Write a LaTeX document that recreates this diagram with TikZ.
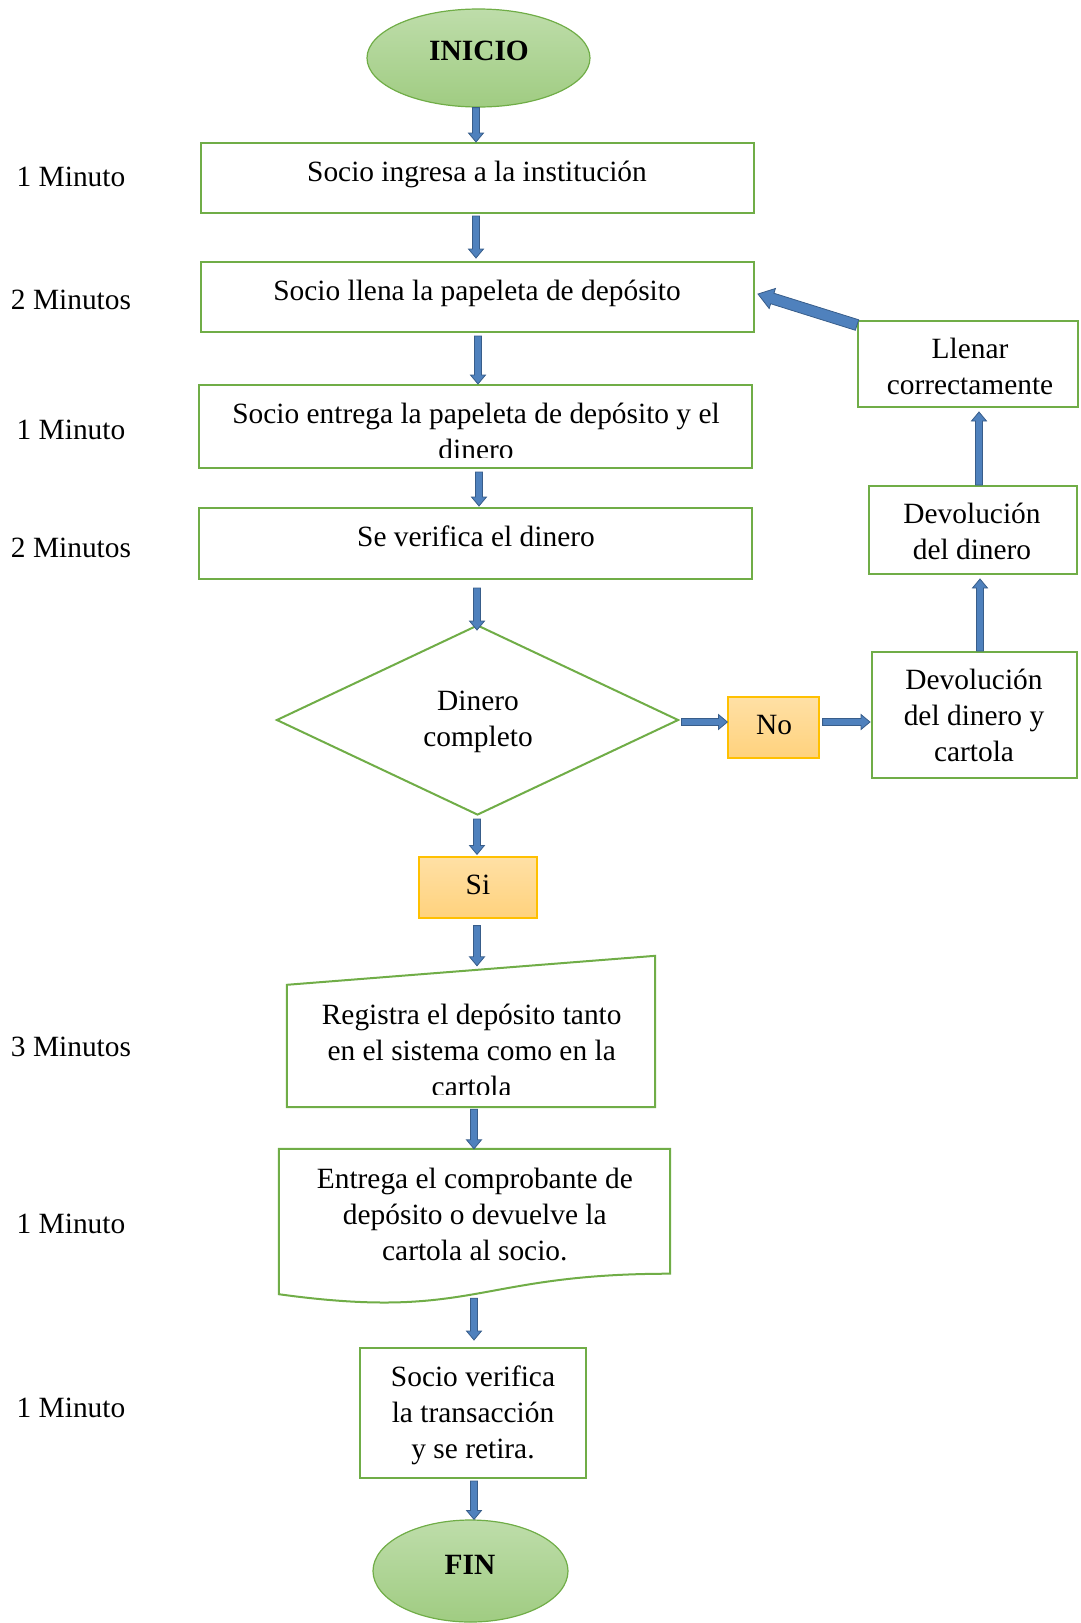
\documentclass[tikz,border=0pt]{standalone}
\usepackage{fontspec}
\setmainfont{Liberation Serif}
\usetikzlibrary{shapes.geometric,calc}

\definecolor{boxgreen}{RGB}{112,173,71}
\definecolor{ovaltop}{RGB}{190,221,170}
\definecolor{ovalbot}{RGB}{160,204,130}
\definecolor{tagtop}{RGB}{255,224,165}
\definecolor{tagbot}{RGB}{255,210,125}
\definecolor{tagedge}{RGB}{255,192,0}
\definecolor{arrowfill}{RGB}{79,129,189}
\definecolor{arrowedge}{RGB}{56,93,138}

% block arrow: from, to, half shaft width, half head width, head length
\newcommand\flowarrow[5]{%
  \coordinate (fa-s) at (#1);
  \coordinate (fa-e) at (#2);
  \coordinate (fa-h) at ($(fa-e)!#5!(fa-s)$);
  \filldraw[fill=arrowfill, draw=arrowedge, line width=0.8pt, line join=miter]
    ($(fa-s)!#3!90:(fa-e)$) -- ($(fa-h)!#3!90:(fa-e)$) -- ($(fa-h)!#4!90:(fa-e)$)
    -- (fa-e) -- ($(fa-h)!#4!-90:(fa-e)$) -- ($(fa-h)!#3!-90:(fa-e)$)
    -- ($(fa-s)!#3!-90:(fa-e)$) -- cycle;
}
\newcommand\flowstd[2]{\flowarrow{#1}{#2}{3.5pt}{7.5pt}{9pt}}

\tikzset{
  procbox/.style={rectangle, draw=boxgreen, line width=2pt, fill=white, inner sep=0pt},
  oval/.style={ellipse, draw=boxgreen, line width=1.2pt, top color=ovaltop, bottom color=ovalbot, inner sep=0pt},
  tagbox/.style={rectangle, draw=tagedge, line width=1.2pt, top color=tagtop, bottom color=tagbot, inner sep=0pt},
  txt/.style={font=\fontsize{29.4}{36}\selectfont, align=center, inner sep=0pt},
  boldtxt/.style={txt, font=\fontsize{29.4}{36}\selectfont\bfseries},
}

\begin{document}
\begin{tikzpicture}[x=1pt, y=-1pt]
\useasboundingbox (0,0) rectangle (1080,1623);

% ---- shapes ----
\node[oval, minimum width=223pt, minimum height=98pt] (ini) at (478.5,58) {};
\node[procbox, minimum width=553pt, minimum height=70pt] (b1) at (477.5,178) {};
\node[procbox, minimum width=553pt, minimum height=70pt] (b2) at (477.5,297) {};
\node[procbox, minimum width=553pt, minimum height=83pt] (b3) at (475.5,426.5) {};
\node[procbox, minimum width=553pt, minimum height=71pt] (b4) at (475.5,543.5) {};
\node[diamond, draw=boxgreen, line width=2pt, fill=white, inner sep=0pt,
      minimum width=402pt, minimum height=190pt] (dia) at (477.5,720) {};
\node[tagbox, minimum width=118pt, minimum height=61pt] (si) at (478,887.5) {};
\node[tagbox, minimum width=91pt, minimum height=61pt] (no) at (773.5,727.5) {};
\node[procbox, minimum width=205pt, minimum height=126pt] (dc) at (974.5,715) {};
\node[procbox, minimum width=208pt, minimum height=88pt] (dd) at (973,530) {};
\node[procbox, minimum width=220pt, minimum height=86pt] (ll) at (968,364) {};

% manual input shape
\node[inner sep=0pt, minimum width=368pt, minimum height=151pt] (reg) at (471,1031.5) {};
\draw[draw=boxgreen, line width=2pt, fill=white]
  ([yshift=-29pt]reg.north west) -- (reg.north east) -- (reg.south east) -- (reg.south west) -- cycle;

% document shape
\node[inner sep=0pt, minimum width=391pt, minimum height=145pt] (ent) at (474.5,1221.5) {};
\draw[draw=boxgreen, line width=2pt, fill=white]
  (ent.north west) -- (ent.north east) -- ([yshift=20.5pt]ent.south east)
  .. controls ([yshift=20.5pt]ent.south) and ([yshift=-27pt]ent.south) .. (ent.south west) -- cycle;

\node[procbox, minimum width=226pt, minimum height=130pt] (vf) at (473,1413) {};
\node[oval, minimum width=195pt, minimum height=102pt] (fin) at (470.5,1571) {};

% ---- texts ----
\node[boldtxt] (ini-t) at (479,53.5) {INICIO\strut};
\node[txt] (b1-t) at (477,174) {Socio ingresa a la institución\strut};
\node[txt] (b2-t) at (477,293) {Socio llena la papeleta de depósito\strut};
\begin{scope}
  \clip (b3.north west) rectangle (752,457);
  \node[txt] (b3-t) at (476,434) {Socio entrega la papeleta de depósito y el\strut\\dinero\strut};
\end{scope}
\node[txt] (b4-t) at (476,539) {Se verifica el dinero\strut};
\node[txt] (dia-t) at (478,721) {Dinero\strut\\completo\strut};
\node[txt] (si-t) at (478,887) {Si\strut};
\node[txt] (no-t) at (774,727) {No\strut};
\node[txt] (dc-t) at (974,718.5) {Devolución\strut\\del dinero y\strut\\cartola\strut};
\node[txt] (dd-t) at (972,534) {Devolución\strut\\del dinero\strut};
\node[txt] (ll-t) at (970,369.5) {Llenar\strut\\correctamente\strut};
\begin{scope}
  \clip (287,950) rectangle (655,1094);
  \node[txt] (reg-t) at (471.7,1053) {Registra el depósito tanto\strut\\en el sistema como en la\strut\\cartola\strut};
\end{scope}
\node[txt] (ent-t) at (474.8,1217) {Entrega el comprobante de\strut\\depósito o devuelve la\strut\\cartola al socio.\strut};
\node[txt] (vf-t) at (473,1415) {Socio verifica\strut\\la transacción\strut\\y se retira.\strut};
\node[boldtxt] (fin-t) at (470,1567.5) {FIN\strut};

% ---- time labels ----
\node[txt] (t1) at (71,179) {1 Minuto\strut};
\node[txt] (t2) at (71,302) {2 Minutos\strut};
\node[txt] (t3) at (71,432) {1 Minuto\strut};
\node[txt] (t4) at (71,550) {2 Minutos\strut};
\node[txt] (t5) at (71,1049) {3 Minutos\strut};
\node[txt] (t6) at (71,1226) {1 Minuto\strut};
\node[txt] (t7) at (71,1410) {1 Minuto\strut};

% ---- connectors ----
\flowstd{[xshift=-2.5pt]ini.south}{[xshift=-1.5pt]b1.north}
\flowstd{[xshift=-1.5pt,yshift=-2pt]b1.south}{[xshift=-1.5pt,yshift=3pt]b2.north}
\flowstd{[xshift=0.5pt,yshift=-3pt]b2.south}{[xshift=2.5pt]b3.north}
\flowstd{[xshift=3.5pt,yshift=-3pt]b3.south}{[xshift=3.5pt,yshift=1pt]b4.north}
\flowstd{[xshift=1.5pt,yshift=-8pt]b4.south}{[xshift=-0.5pt,yshift=-6pt]dia.north}
\flowstd{[xshift=-0.5pt,yshift=-3pt]dia.south}{[xshift=-1pt,yshift=2pt]si.north}
\flowstd{[xshift=-1pt,yshift=-7pt]si.south}{[xshift=6pt,yshift=-10pt]reg.north}
\flowstd{[xshift=3pt,yshift=-2pt]reg.south}{[xshift=-0.5pt]ent.north}
\flowstd{[xshift=-0.5pt,yshift=-4pt]ent.south}{[xshift=1pt,yshift=7pt]vf.north}
\flowstd{[xshift=1pt,yshift=-2pt]vf.south}{[xshift=3.5pt]fin.north}
\flowstd{[xshift=2pt,yshift=-2pt]dia.east}{[yshift=5.5pt]no.west}
\flowstd{[xshift=3pt,yshift=5.5pt]no.east}{[xshift=-1pt,yshift=-7pt]dc.west}
\flowstd{[xshift=5.5pt]dc.north}{[xshift=7pt,yshift=-4pt]dd.south}
\flowstd{[xshift=6pt]dd.north}{[xshift=11pt,yshift=-4pt]ll.south}
\flowarrow{[yshift=-5pt]ll.north west}{[xshift=3pt,yshift=3pt]b2.east}{5.5pt}{10.5pt}{15pt}
\end{tikzpicture}
\end{document}
